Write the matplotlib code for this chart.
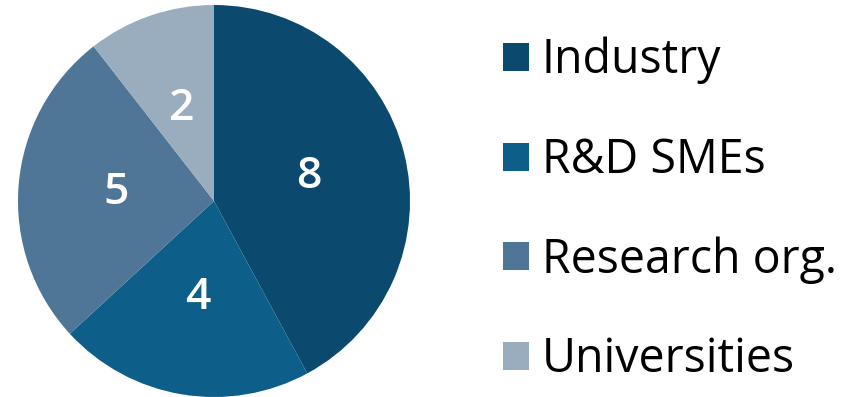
import matplotlib
matplotlib.use("Agg")
import matplotlib.pyplot as plt

# partner counts by organisation type
categories = ["Industry", "R&D SMEs", "Research org.", "Universities"]
counts = [8, 4, 5, 2]
colors = ["#0b4a6e", "#0d5e89", "#4f7597", "#9aadbe"]

plt.rcParams["font.family"] = ["Open Sans", "DejaVu Sans"]

fig = plt.figure(figsize=(8.56, 3.97), dpi=100)

# pie centred at about (214, 201) px, radius ~196 px
W, H = 856, 397
cx, cy, r = 214, 201, 196
ax = fig.add_axes([(cx - r) / W, (H - cy - r) / H, 2 * r / W, 2 * r / H])

wedges, texts, autotexts = ax.pie(
    counts,
    colors=colors,
    startangle=90,
    counterclock=False,
    autopct=lambda p: f"{round(p * sum(counts) / 100):d}",
    pctdistance=0.5,
    textprops=dict(color="white", fontsize=32, fontweight="semibold"),
    wedgeprops=dict(linewidth=0),
)
ax.set_xlim(-1, 1)
ax.set_ylim(-1, 1)
ax.set_aspect("auto")
ax.axis("off")

fig.legend(
    wedges, categories,
    loc="upper left",
    bbox_to_anchor=(503 / W, 1 - 37 / H),
    frameon=False,
    fontsize=33.5,
    handlelength=0.55,
    handleheight=0.55,
    handletextpad=0.28,
    labelspacing=1.12,
    borderaxespad=0,
    borderpad=0,
)

fig.savefig("out.png", dpi=100)
